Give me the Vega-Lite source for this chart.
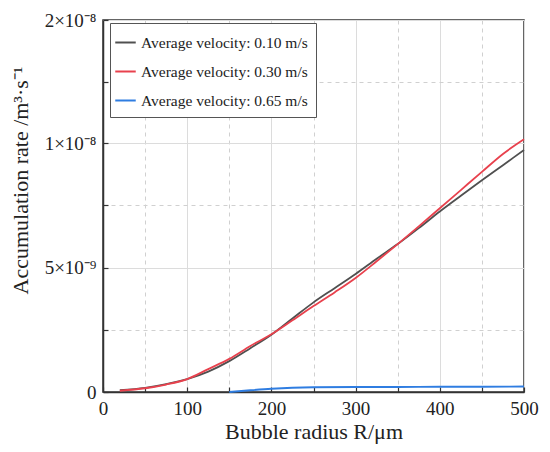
{
  "$schema": "https://vega.github.io/schema/vega-lite/v6.json",
  "autosize": {"type": "none"},
  "padding": {"left": 103, "top": 20, "right": 26, "bottom": 60},
  "width": 421,
  "height": 372,
  "background": "white",
  "data": {
    "values": [
      {"series": "Average velocity: 0.10 m/s", "R": 20, "rate": 0.07e-9},
      {"series": "Average velocity: 0.10 m/s", "R": 50, "rate": 0.17e-9},
      {"series": "Average velocity: 0.10 m/s", "R": 75, "rate": 0.32e-9},
      {"series": "Average velocity: 0.10 m/s", "R": 100, "rate": 0.52e-9},
      {"series": "Average velocity: 0.10 m/s", "R": 125, "rate": 0.82e-9},
      {"series": "Average velocity: 0.10 m/s", "R": 150, "rate": 1.24e-9},
      {"series": "Average velocity: 0.10 m/s", "R": 175, "rate": 1.76e-9},
      {"series": "Average velocity: 0.10 m/s", "R": 200, "rate": 2.3e-9},
      {"series": "Average velocity: 0.10 m/s", "R": 225, "rate": 2.95e-9},
      {"series": "Average velocity: 0.10 m/s", "R": 250, "rate": 3.6e-9},
      {"series": "Average velocity: 0.10 m/s", "R": 275, "rate": 4.17e-9},
      {"series": "Average velocity: 0.10 m/s", "R": 300, "rate": 4.74e-9},
      {"series": "Average velocity: 0.10 m/s", "R": 325, "rate": 5.35e-9},
      {"series": "Average velocity: 0.10 m/s", "R": 350, "rate": 5.94e-9},
      {"series": "Average velocity: 0.10 m/s", "R": 375, "rate": 6.58e-9},
      {"series": "Average velocity: 0.10 m/s", "R": 400, "rate": 7.25e-9},
      {"series": "Average velocity: 0.10 m/s", "R": 425, "rate": 7.88e-9},
      {"series": "Average velocity: 0.10 m/s", "R": 450, "rate": 8.5e-9},
      {"series": "Average velocity: 0.10 m/s", "R": 475, "rate": 9.11e-9},
      {"series": "Average velocity: 0.10 m/s", "R": 500, "rate": 9.72e-9},
      {"series": "Average velocity: 0.30 m/s", "R": 20, "rate": 0.05e-9},
      {"series": "Average velocity: 0.30 m/s", "R": 50, "rate": 0.15e-9},
      {"series": "Average velocity: 0.30 m/s", "R": 75, "rate": 0.3e-9},
      {"series": "Average velocity: 0.30 m/s", "R": 100, "rate": 0.52e-9},
      {"series": "Average velocity: 0.30 m/s", "R": 125, "rate": 0.92e-9},
      {"series": "Average velocity: 0.30 m/s", "R": 150, "rate": 1.33e-9},
      {"series": "Average velocity: 0.30 m/s", "R": 175, "rate": 1.85e-9},
      {"series": "Average velocity: 0.30 m/s", "R": 200, "rate": 2.32e-9},
      {"series": "Average velocity: 0.30 m/s", "R": 225, "rate": 2.88e-9},
      {"series": "Average velocity: 0.30 m/s", "R": 250, "rate": 3.45e-9},
      {"series": "Average velocity: 0.30 m/s", "R": 275, "rate": 4.0e-9},
      {"series": "Average velocity: 0.30 m/s", "R": 300, "rate": 4.58e-9},
      {"series": "Average velocity: 0.30 m/s", "R": 325, "rate": 5.25e-9},
      {"series": "Average velocity: 0.30 m/s", "R": 350, "rate": 5.94e-9},
      {"series": "Average velocity: 0.30 m/s", "R": 375, "rate": 6.65e-9},
      {"series": "Average velocity: 0.30 m/s", "R": 400, "rate": 7.38e-9},
      {"series": "Average velocity: 0.30 m/s", "R": 425, "rate": 8.11e-9},
      {"series": "Average velocity: 0.30 m/s", "R": 450, "rate": 8.84e-9},
      {"series": "Average velocity: 0.30 m/s", "R": 475, "rate": 9.56e-9},
      {"series": "Average velocity: 0.30 m/s", "R": 500, "rate": 10.3e-9},
      {"series": "Average velocity: 0.65 m/s", "R": 150, "rate": 0.0},
      {"series": "Average velocity: 0.65 m/s", "R": 175, "rate": 0.07e-9},
      {"series": "Average velocity: 0.65 m/s", "R": 200, "rate": 0.13e-9},
      {"series": "Average velocity: 0.65 m/s", "R": 225, "rate": 0.17e-9},
      {"series": "Average velocity: 0.65 m/s", "R": 250, "rate": 0.19e-9},
      {"series": "Average velocity: 0.65 m/s", "R": 300, "rate": 0.2e-9},
      {"series": "Average velocity: 0.65 m/s", "R": 350, "rate": 0.2e-9},
      {"series": "Average velocity: 0.65 m/s", "R": 400, "rate": 0.21e-9},
      {"series": "Average velocity: 0.65 m/s", "R": 450, "rate": 0.21e-9},
      {"series": "Average velocity: 0.65 m/s", "R": 500, "rate": 0.22e-9}
    ]
  },
  "mark": {"type": "line", "strokeWidth": 1.8, "interpolate": "monotone"},
  "encoding": {
    "x": {
      "field": "R",
      "type": "quantitative",
      "title": "Bubble radius R/μm",
      "scale": {"domain": [0, 500], "nice": false},
      "axis": {
        "values": [0, 50, 100, 150, 200, 250, 300, 350, 400, 450, 500],
        "labelExpr": "datum.value % 100 == 0 ? datum.label : ''",
        "gridDash": {"condition": {"test": "datum.value % 100 != 0", "value": [4, 4]}, "value": []},
        "gridColor": {"condition": {"test": "datum.value % 100 != 0", "value": "#d0d0d0"}, "value": "#dcdcdc"},
        "tickSize": -5,
        "labelPadding": 12,
        "labelFlush": false,
        "titleY": 46,
        "titleBaseline": "alphabetic"
      }
    },
    "y": {
      "field": "rate",
      "type": "quantitative",
      "title": "Accumulation rate /m³·s⁻¹",
      "scale": {"domain": [0, 1e-8, 2e-8], "range": [372, 123, 0], "nice": false},
      "axis": {
        "values": [0, 2.5e-9, 5e-9, 7.5e-9, 1e-8, 1.5e-8, 2e-8],
        "labelExpr": "datum.value == 0 ? '0' : datum.value == 5e-9 ? '5×10⁻⁹' : datum.value == 1e-8 ? '1×10⁻⁸' : datum.value == 2e-8 ? '2×10⁻⁸' : ''",
        "gridDash": {"condition": {"test": "datum.value == 2.5e-9 || datum.value == 7.5e-9 || datum.value == 1.5e-8", "value": [4, 4]}, "value": []},
        "gridColor": {"condition": {"test": "datum.value == 2.5e-9 || datum.value == 7.5e-9 || datum.value == 1.5e-8", "value": "#d0d0d0"}, "value": "#dcdcdc"},
        "tickSize": -5,
        "labelPadding": 12,
        "labelFlush": false,
        "titleAngle": -90,
        "titleX": -76,
        "titleY": 160,
        "titleAlign": "center",
        "titleBaseline": "alphabetic"
      }
    },
    "color": {
      "field": "series",
      "type": "nominal",
      "scale": {
        "domain": ["Average velocity: 0.10 m/s", "Average velocity: 0.30 m/s", "Average velocity: 0.65 m/s"],
        "range": ["#505050", "#e8414d", "#2f7de1"]
      },
      "legend": {
        "title": null,
        "orient": "none",
        "legendX": 7,
        "legendY": 3,
        "symbolType": "stroke",
        "symbolSize": 420,
        "symbolStrokeWidth": 2,
        "symbolOffset": -4,
        "labelOffset": 4,
        "labelFontSize": 15.5,
        "labelFont": "Liberation Serif",
        "labelColor": "#222",
        "rowPadding": 9,
        "padding": 8,
        "strokeColor": "#555",
        "fillColor": "white",
        "labelLimit": 300
      }
    }
  },
  "config": {
    "font": "Liberation Serif",
    "view": {"stroke": "#333", "strokeWidth": 1.5},
    "axis": {
      "labelFont": "Liberation Serif",
      "titleFont": "Liberation Serif",
      "domainColor": "#333",
      "domainWidth": 1.5,
      "tickColor": "#333",
      "tickWidth": 1.2,
      "labelFontSize": 19,
      "labelColor": "#222",
      "titleFontSize": 22,
      "titleFontWeight": "normal",
      "titleColor": "#222",
      "gridWidth": 1
    }
  }
}
